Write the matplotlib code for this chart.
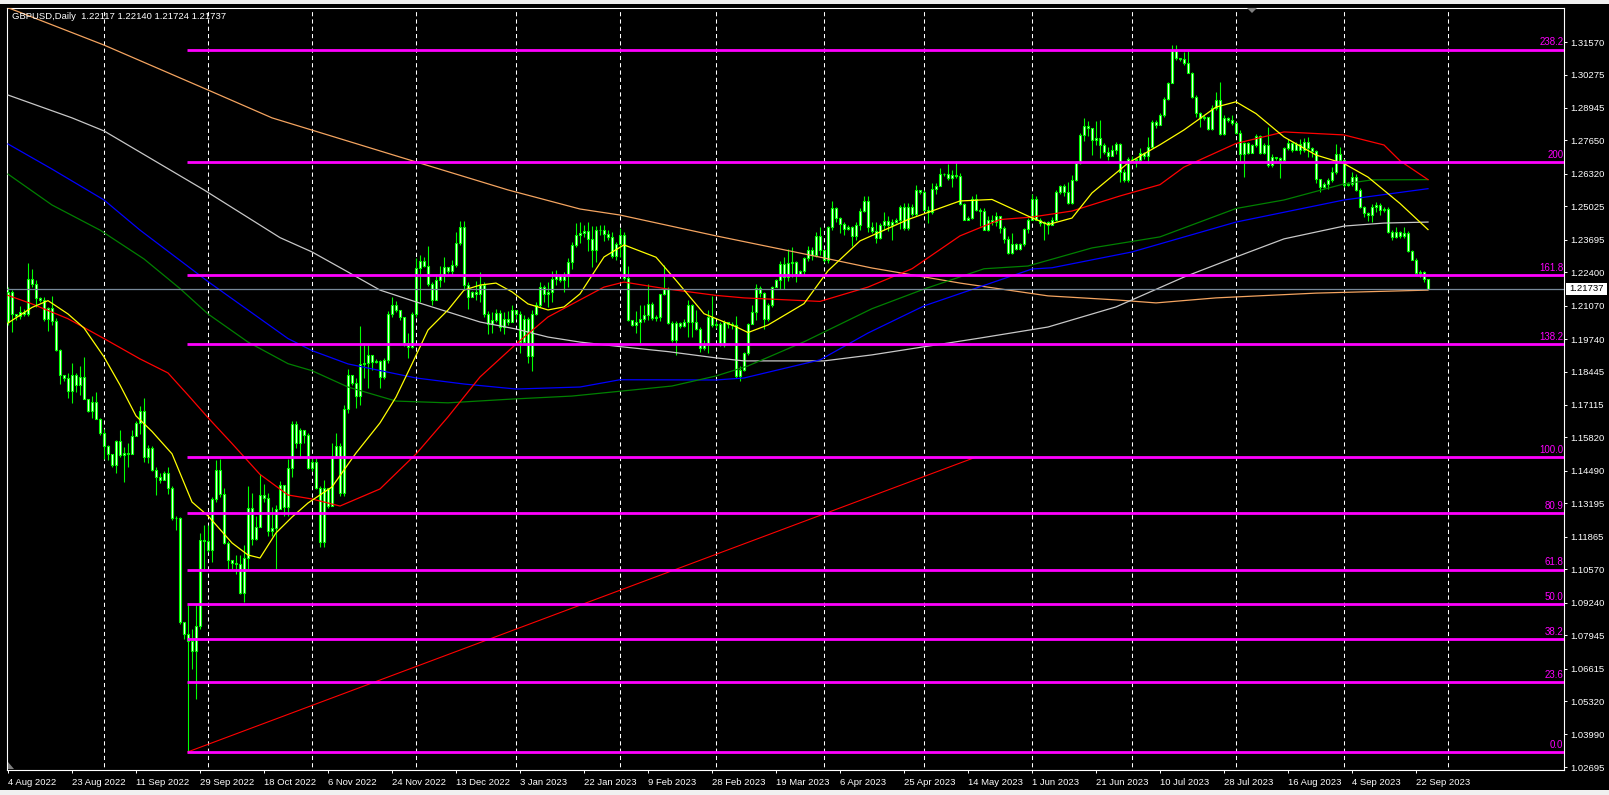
import matplotlib
matplotlib.use("Agg")
import matplotlib.pyplot as plt
from matplotlib.patches import Rectangle, Polygon
import numpy as np

plt.rcParams['font.family'] = ['Liberation Sans', 'DejaVu Sans']

# GBPUSD daily bars (broker shows Sunday bars too); open of a bar = previous close
first_open = 1.2040
closes = [
    1.2161, 1.2072, 1.2066, 1.2083, 1.2072, 1.2212, 1.2193, 1.2137, 1.2129, 1.2055,
    1.2096, 1.2045, 1.1929, 1.1830, 1.1819, 1.1767, 1.1830, 1.1792, 1.1822, 1.1737,
    1.1686, 1.1723, 1.1657, 1.1600, 1.1548, 1.1518, 1.1474, 1.1566, 1.1511, 1.1520,
    1.1518, 1.1586, 1.1638, 1.1689, 1.1504, 1.1542, 1.1453, 1.1424, 1.1412, 1.1440,
    1.1380, 1.1260, 1.1263, 1.0849, 1.0798, 1.0771, 1.0730, 1.0830, 1.1175, 1.1168,
    1.1134, 1.1337, 1.1452, 1.1356, 1.1161, 1.1096, 1.1082, 1.1079, 1.0963, 1.1100,
    1.1301, 1.1178, 1.1227, 1.1353, 1.1339, 1.1209, 1.1223, 1.1296, 1.1391, 1.1305,
    1.1460, 1.1635, 1.1562, 1.1611, 1.1591, 1.1462, 1.1485, 1.1380, 1.1166, 1.1380,
    1.1310, 1.1509, 1.1549, 1.1362, 1.1695, 1.1831, 1.1800, 1.1748, 1.1875, 1.1880,
    1.1910, 1.1882, 1.1888, 1.1822, 1.1891, 1.2075, 1.2111, 1.2091, 1.2062, 1.1958,
    1.1942, 1.2075, 1.2259, 1.2285, 1.2265, 1.2192, 1.2131, 1.2208, 1.2232, 1.2261,
    1.2245, 1.2268, 1.2355, 1.2419, 1.2188, 1.2141, 1.2161, 1.2152, 1.2188, 1.2075,
    1.2035, 1.2051, 1.2078, 1.2022, 1.2055, 1.2042, 1.2091, 1.2072, 1.1962, 1.2055,
    1.1908, 1.2075, 1.2111, 1.2181, 1.2152, 1.2161, 1.2215, 1.2228, 1.2210, 1.2224,
    1.2281, 1.2348, 1.2388, 1.2397, 1.2404, 1.2371, 1.2327, 1.2407, 1.2410, 1.2391,
    1.2380, 1.2305, 1.2352, 1.2387, 1.2217, 1.2049, 1.2030, 1.2040, 1.2055, 1.2068,
    1.2115, 1.2056, 1.2062, 1.2152, 1.2174, 1.2036, 1.1970, 1.2038, 1.2025, 1.2043,
    1.2108, 1.2042, 1.2016, 1.1937, 1.1950, 1.2062, 1.2030, 1.2034, 1.1951, 1.2042,
    1.2033, 1.2030, 1.1826, 1.1850, 1.1920, 1.2033, 1.2082, 1.2178, 1.2158, 1.2052,
    1.2108, 1.2181, 1.2209, 1.2272, 1.2220, 1.2275, 1.2279, 1.2235, 1.2245, 1.2296,
    1.2328, 1.2310, 1.2384, 1.2330, 1.2290, 1.2420, 1.2496, 1.2457, 1.2433, 1.2411,
    1.2420, 1.2384, 1.2428, 1.2486, 1.2525, 1.2420, 1.2405, 1.2377, 1.2430, 1.2444,
    1.2430, 1.2440, 1.2450, 1.2500, 1.2417, 1.2500, 1.2473, 1.2567, 1.2560, 1.2490,
    1.2480, 1.2572, 1.2585, 1.2633, 1.2630, 1.2616, 1.2629, 1.2622, 1.2510, 1.2450,
    1.2457, 1.2530, 1.2490, 1.2483, 1.2410, 1.2450, 1.2440, 1.2463, 1.2415, 1.2371,
    1.2315, 1.2351, 1.2334, 1.2351, 1.2413, 1.2450, 1.2530, 1.2450, 1.2437, 1.2440,
    1.2430, 1.2450, 1.2559, 1.2583, 1.2560, 1.2514, 1.2609, 1.2675, 1.2788, 1.2824,
    1.2815, 1.2765, 1.2775, 1.2748, 1.2718, 1.2702, 1.2728, 1.2752, 1.2640, 1.2609,
    1.2693, 1.2690, 1.2686, 1.2716, 1.2702, 1.2740, 1.2839, 1.2826, 1.2866, 1.2932,
    1.2995, 1.3125, 1.3092, 1.3088, 1.3072, 1.3035, 1.2939, 1.2873, 1.2853, 1.2857,
    1.2809, 1.2896, 1.2928, 1.2790, 1.2853, 1.2846, 1.2833, 1.2795, 1.2713, 1.2753,
    1.2716, 1.2746, 1.2782, 1.2716, 1.2746, 1.2666, 1.2700, 1.2694, 1.2686, 1.2733,
    1.2753, 1.2729, 1.2750, 1.2726, 1.2759, 1.2733, 1.2724, 1.2613, 1.2580, 1.2591,
    1.2609, 1.2640, 1.2713, 1.2686, 1.2587, 1.2593, 1.2620, 1.2569, 1.2500, 1.2476,
    1.2467, 1.2500, 1.2507, 1.2489, 1.2493, 1.2400, 1.2380, 1.2400, 1.2383, 1.2396,
    1.2325, 1.2290, 1.2237, 1.2241, 1.2212, 1.21737,
]
highs = [
    1.2180, 1.2168, 1.2072, 1.2107, 1.2093, 1.2275, 1.2253, 1.2209, 1.2141, 1.2141,
    1.2100, 1.2145, 1.2059, 1.1935, 1.1830, 1.1839, 1.1878, 1.1839, 1.1867, 1.1901,
    1.1737, 1.1748, 1.1764, 1.1661, 1.1616, 1.1552, 1.1479, 1.1570, 1.1613, 1.1545,
    1.1561, 1.1613, 1.1648, 1.1709, 1.1740, 1.1552, 1.1548, 1.1463, 1.1442, 1.1449,
    1.1463, 1.1387, 1.1271, 1.1264, 1.0846, 1.0915, 1.0819, 1.0915, 1.1202, 1.1233,
    1.1233, 1.1346, 1.1493, 1.1497, 1.1380, 1.1168, 1.1093, 1.1113, 1.1113, 1.1155,
    1.1387, 1.1360, 1.1271, 1.1438, 1.1396, 1.1360, 1.1305, 1.1312, 1.1408, 1.1360,
    1.1497, 1.1646, 1.1649, 1.1619, 1.1598, 1.1598, 1.1502, 1.1502, 1.1390, 1.1413,
    1.1340, 1.1562, 1.1600, 1.1562, 1.1710, 1.1855, 1.1815, 1.1820, 1.2028, 1.1960,
    1.1950, 1.1905, 1.1895, 1.1890, 1.1900, 1.2085, 1.2140, 1.2125, 1.2070, 1.2055,
    1.2000, 1.2080, 1.2295, 1.2310, 1.2300, 1.2345, 1.2200, 1.2225, 1.2265, 1.2300,
    1.2255, 1.2290, 1.2400, 1.2446, 1.2445, 1.2200, 1.2165, 1.2205, 1.2240, 1.2200,
    1.2085, 1.2080, 1.2095, 1.2090, 1.2080, 1.2085, 1.2110, 1.2080, 1.2085, 1.2070,
    1.2060, 1.2090, 1.2120, 1.2200, 1.2190, 1.2200, 1.2245, 1.2250, 1.2230, 1.2240,
    1.2295, 1.2360, 1.2435, 1.2440, 1.2430, 1.2441, 1.2423, 1.2424, 1.2428, 1.2430,
    1.2410, 1.2400, 1.2360, 1.2415, 1.2400, 1.2266, 1.2050, 1.2085, 1.2108, 1.2108,
    1.2194, 1.2121, 1.2070, 1.2155, 1.2270, 1.2180, 1.2045, 1.2045, 1.2042, 1.2052,
    1.2128, 1.2115, 1.2089, 1.2023, 1.1970, 1.2089, 1.2144, 1.2045, 1.2042, 1.2050,
    1.2039, 1.2042, 1.2065, 1.1865, 1.1924, 1.2039, 1.2108, 1.2194, 1.2185, 1.2161,
    1.2117, 1.2187, 1.2213, 1.2286, 1.2301, 1.2332, 1.2340, 1.2285, 1.2250, 1.2300,
    1.2345, 1.2340, 1.2400, 1.2420, 1.2330, 1.2425, 1.2525, 1.2500, 1.2460, 1.2440,
    1.2428, 1.2425, 1.2440, 1.2495, 1.2542, 1.2545, 1.2440, 1.2440, 1.2437, 1.2479,
    1.2463, 1.2453, 1.2457, 1.2506, 1.2514, 1.2514, 1.2510, 1.2589, 1.2569, 1.2569,
    1.2503, 1.2596, 1.2596, 1.2655, 1.2636, 1.2671, 1.2649, 1.2682, 1.2634, 1.2516,
    1.2463, 1.2543, 1.2550, 1.2497, 1.2497, 1.2463, 1.2470, 1.2479, 1.2440, 1.2424,
    1.2384, 1.2397, 1.2358, 1.2358, 1.2417, 1.2457, 1.2550, 1.2543, 1.2457, 1.2444,
    1.2444, 1.2461, 1.2567, 1.2589, 1.2590, 1.2600, 1.2629, 1.2682, 1.2795, 1.2854,
    1.2841, 1.2795, 1.2841, 1.2848, 1.2753, 1.2739, 1.2748, 1.2758, 1.2755, 1.2650,
    1.2700, 1.2705, 1.2695, 1.2735, 1.2720, 1.2779, 1.2846, 1.2846, 1.2873, 1.2939,
    1.2999, 1.3145, 1.3145, 1.3095, 1.3119, 1.3125, 1.3039, 1.2945, 1.2880, 1.2866,
    1.2860, 1.2906, 1.2959, 1.2999, 1.2866, 1.2860, 1.2866, 1.2839, 1.2806, 1.2759,
    1.2760, 1.2752, 1.2790, 1.2786, 1.2753, 1.2819, 1.2710, 1.2700, 1.2700, 1.2740,
    1.2770, 1.2760, 1.2760, 1.2770, 1.2775, 1.2779, 1.2740, 1.2726, 1.2605, 1.2600,
    1.2615, 1.2660, 1.2750, 1.2740, 1.2690, 1.2600, 1.2640, 1.2630, 1.2575, 1.2505,
    1.2480, 1.2510, 1.2520, 1.2515, 1.2500, 1.2500, 1.2410, 1.2420, 1.2405, 1.2420,
    1.2405, 1.2330, 1.2295, 1.2250, 1.2245, 1.22140,
]
lows = [
    1.2031, 1.2004, 1.2049, 1.2052, 1.2066, 1.2066, 1.2182, 1.2100, 1.2123, 1.2045,
    1.2008, 1.2031, 1.1926, 1.1794, 1.1808, 1.1740, 1.1719, 1.1764, 1.1753, 1.1734,
    1.1682, 1.1661, 1.1655, 1.1593, 1.1497, 1.1493, 1.1465, 1.1442, 1.1504, 1.1405,
    1.1465, 1.1515, 1.1611, 1.1597, 1.1483, 1.1479, 1.1449, 1.1353, 1.1401, 1.1433,
    1.1356, 1.1255, 1.1214, 1.0840, 1.0778, 1.0333, 1.0661, 1.0542, 1.0819, 1.1059,
    1.1127, 1.1086, 1.1326, 1.1346, 1.1159, 1.1059, 1.1059, 1.1038, 1.0959, 1.0926,
    1.1059, 1.1155, 1.1175, 1.1230, 1.1326, 1.1189, 1.1189, 1.1059, 1.1333, 1.1271,
    1.1271, 1.1425, 1.1542, 1.1502, 1.1562, 1.1455, 1.1448, 1.1376, 1.1146, 1.1146,
    1.1300, 1.1330, 1.1500, 1.1350, 1.1350, 1.1680, 1.1790, 1.1700, 1.1710, 1.1820,
    1.1780, 1.1850, 1.1880, 1.1780, 1.1815, 1.1880, 1.2060, 1.2080, 1.2050, 1.1945,
    1.1900, 1.1940, 1.2060, 1.2120, 1.2260, 1.2185, 1.2110, 1.2130, 1.2180, 1.2200,
    1.2238, 1.2230, 1.2260, 1.2350, 1.2170, 1.2095, 1.2140, 1.2130, 1.2120, 1.2062,
    1.1995, 1.2000, 1.2040, 1.2005, 1.1995, 1.2030, 1.2040, 1.2055, 1.1920, 1.1950,
    1.1880, 1.1845, 1.2070, 1.2100, 1.2120, 1.2100, 1.2120, 1.2190, 1.2200, 1.2160,
    1.2180, 1.2255, 1.2340, 1.2355, 1.2380, 1.2325, 1.2260, 1.2279, 1.2390, 1.2365,
    1.2370, 1.2295, 1.2290, 1.2300, 1.2210, 1.2046, 1.2025, 1.2000, 1.1960, 1.2043,
    1.2050, 1.2050, 1.2045, 1.2045, 1.2150, 1.2033, 1.1964, 1.1911, 1.2017, 1.2023,
    1.1983, 1.1983, 1.2010, 1.1924, 1.1930, 1.1920, 1.2023, 1.2020, 1.1946, 1.1944,
    1.2020, 1.2016, 1.1819, 1.1806, 1.1846, 1.1911, 1.2052, 1.2049, 1.2141, 1.2016,
    1.2046, 1.2102, 1.2180, 1.2174, 1.2174, 1.2207, 1.2220, 1.2200, 1.2230, 1.2230,
    1.2285, 1.2290, 1.2300, 1.2310, 1.2280, 1.2275, 1.2410, 1.2440, 1.2395, 1.2390,
    1.2408, 1.2345, 1.2370, 1.2410, 1.2480, 1.2400, 1.2398, 1.2358, 1.2373, 1.2410,
    1.2404, 1.2368, 1.2437, 1.2413, 1.2410, 1.2410, 1.2464, 1.2464, 1.2550, 1.2483,
    1.2437, 1.2474, 1.2553, 1.2583, 1.2623, 1.2609, 1.2580, 1.2616, 1.2506, 1.2448,
    1.2448, 1.2453, 1.2483, 1.2424, 1.2408, 1.2404, 1.2430, 1.2424, 1.2397, 1.2358,
    1.2311, 1.2311, 1.2328, 1.2328, 1.2344, 1.2397, 1.2448, 1.2448, 1.2424, 1.2368,
    1.2391, 1.2427, 1.2444, 1.2550, 1.2545, 1.2510, 1.2510, 1.2603, 1.2673, 1.2762,
    1.2781, 1.2708, 1.2748, 1.2695, 1.2712, 1.2689, 1.2712, 1.2712, 1.2600, 1.2598,
    1.2600, 1.2680, 1.2660, 1.2676, 1.2690, 1.2676, 1.2733, 1.2815, 1.2830, 1.2857,
    1.2928, 1.2992, 1.3085, 1.3080, 1.3065, 1.3032, 1.2935, 1.2860, 1.2819, 1.2846,
    1.2806, 1.2806, 1.2886, 1.2786, 1.2786, 1.2839, 1.2826, 1.2790, 1.2680, 1.2620,
    1.2713, 1.2716, 1.2740, 1.2713, 1.2710, 1.2660, 1.2660, 1.2686, 1.2617, 1.2680,
    1.2726, 1.2720, 1.2726, 1.2710, 1.2720, 1.2700, 1.2700, 1.2595, 1.2560, 1.2575,
    1.2570, 1.2600, 1.2630, 1.2680, 1.2580, 1.2585, 1.2585, 1.2565, 1.2495, 1.2460,
    1.2445, 1.2440, 1.2480, 1.2470, 1.2480, 1.2396, 1.2370, 1.2378, 1.2378, 1.2375,
    1.2320, 1.2287, 1.2234, 1.2220, 1.2200, 1.21724,
]
assert len(closes) == len(highs) == len(lows)

title = "GBPUSD,Daily  1.22117 1.22140 1.21724 1.21737"
last_price = 1.21737

# time scale: one label every 16 bars
date_labels = ["4 Aug 2022", "23 Aug 2022", "11 Sep 2022", "29 Sep 2022", "18 Oct 2022",
               "6 Nov 2022", "24 Nov 2022", "13 Dec 2022", "3 Jan 2023", "22 Jan 2023",
               "9 Feb 2023", "28 Feb 2023", "19 Mar 2023", "6 Apr 2023", "25 Apr 2023",
               "14 May 2023", "1 Jun 2023", "21 Jun 2023", "10 Jul 2023", "28 Jul 2023",
               "16 Aug 2023", "4 Sep 2023", "22 Sep 2023"]
label_bars = [16 * k for k in range(len(date_labels))]
# vertical dashed grid at the first bar of each month
month_start_bars = [24, 50, 76, 102, 127, 153, 177, 204, 229, 256, 281, 307, 334, 360]

price_ticks = [1.31570, 1.30275, 1.28945, 1.27650, 1.26320, 1.25025, 1.23695, 1.22400,
               1.21070, 1.19740, 1.18445, 1.17115, 1.15820, 1.14490, 1.13195, 1.11865,
               1.10570, 1.09240, 1.07945, 1.06615, 1.05320, 1.03990, 1.02695]

# Fibonacci retracement anchors and levels
fib_bars = [45, 242]
fib_prices = [1.0330, 1.1504]
fib_levels = [0.0, 23.6, 38.2, 50.0, 61.8, 80.9, 100.0, 138.2, 161.8, 200.0, 238.2]
fib_texts = ["0.0", "23.6", "38.2", "50.0", "61.8", "80.9", "100.0", "138.2", "161.8", "200", "238.2"]

# moving averages
ma_yellow_bars = [0, 6, 10, 15, 19, 24, 28, 32, 36, 41, 46, 50, 56, 60, 63, 67, 71, 75, 81, 87,
                  93, 97, 101, 105, 110, 114, 118, 122, 126, 130, 135, 139, 143, 149, 154, 162,
                  167, 174, 182, 185, 190, 199, 205, 213, 225, 238, 246, 255, 260, 266, 271,
                  280, 288, 294, 302, 307, 312, 319, 327, 334, 340, 348, 355]
ma_yellow = [1.2038, 1.2100, 1.2127, 1.2074, 1.2018, 1.1903, 1.1791, 1.1668, 1.1606, 1.1517,
             1.1325, 1.1270, 1.1162, 1.1114, 1.1102, 1.1202, 1.1265, 1.1321, 1.1385, 1.1520,
             1.1640, 1.1743, 1.1875, 1.2010, 1.2090, 1.2169, 1.2189, 1.2197, 1.2162, 1.2114,
             1.2090, 1.2102, 1.2154, 1.2301, 1.2349, 1.2300, 1.2208, 1.2075, 1.2023, 1.2000,
             1.2030, 1.2115, 1.2246, 1.2365, 1.2450, 1.2524, 1.2530, 1.2464, 1.2430, 1.2456,
             1.2556, 1.2675, 1.2748, 1.2807, 1.2898, 1.2919, 1.2872, 1.2779, 1.2707, 1.2673,
             1.2619, 1.2514, 1.2410]
ma_red_bars = [0, 6, 15, 24, 33, 40, 45, 50, 56, 63, 70, 76, 83, 93, 102, 110, 118, 127, 135,
               143, 149, 154, 165, 177, 184, 203, 215, 226, 238, 248, 256, 266, 278, 288, 294,
               307, 319, 334, 344, 348, 355]
ma_red = [1.2148, 1.2114, 1.2055, 1.1976, 1.1895, 1.1839, 1.1751, 1.1661, 1.1558, 1.1435,
          1.1353, 1.1337, 1.1309, 1.1377, 1.1516, 1.1664, 1.1823, 1.1954, 1.2062, 1.2130,
          1.2181, 1.2201, 1.2173, 1.2148, 1.2138, 1.2124, 1.2181, 1.2254, 1.2385, 1.2450,
          1.2460, 1.2484, 1.2544, 1.2589, 1.2659, 1.2753, 1.2799, 1.2787, 1.2747, 1.2684,
          1.2609]
ma_green_bars = [0, 11, 23, 34, 43, 50, 60, 70, 76, 85, 97, 110, 126, 141, 166, 177, 185, 199,
                 216, 229, 244, 255, 271, 288, 307, 319, 334, 341, 355]
ma_green = [1.2631, 1.2508, 1.2408, 1.2293, 1.2175, 1.2074, 1.1962, 1.1876, 1.1848, 1.1783,
            1.1727, 1.1720, 1.1735, 1.1747, 1.1787, 1.1827, 1.1867, 1.1963, 1.2095, 1.2173,
            1.2254, 1.2265, 1.2337, 1.2381, 1.2494, 1.2528, 1.2592, 1.2608, 1.2609]
ma_blue_bars = [0, 11, 24, 33, 50, 70, 76, 85, 102, 114, 127, 143, 153, 177, 184, 203, 215,
                229, 256, 261, 281, 307, 334, 355]
ma_blue = [1.2751, 1.2651, 1.2528, 1.2408, 1.2203, 1.1976, 1.1928, 1.1875, 1.1819, 1.1795,
           1.1775, 1.1783, 1.1812, 1.1811, 1.1819, 1.1891, 1.1998, 1.2106, 1.2253, 1.2258,
           1.2321, 1.2440, 1.2528, 1.2573]
ma_silver_bars = [0, 16, 24, 49, 68, 76, 85, 93, 102, 110, 118, 127, 135, 143, 153, 165, 177,
                  184, 204, 216, 243, 260, 277, 294, 307, 319, 334, 344, 355]
ma_silver = [1.2946, 1.2855, 1.2803, 1.2568, 1.2378, 1.2321, 1.2241, 1.2169, 1.2122, 1.2082,
             1.2042, 1.2014, 1.1982, 1.1962, 1.1944, 1.1924, 1.1899, 1.1887, 1.1887, 1.1911,
             1.1978, 1.2022, 1.2102, 1.2221, 1.2301, 1.2373, 1.2424, 1.2436, 1.2440]
ma_orange_bars = [-1, 24, 50, 66, 98, 125, 143, 153, 177, 204, 216, 238, 260, 277, 287, 302,
                  327, 355]
ma_orange = [1.3300, 1.3145, 1.2966, 1.2855, 1.2699, 1.2568, 1.2492, 1.2468, 1.2385, 1.2297,
             1.2257, 1.2197, 1.2146, 1.2130, 1.2118, 1.2138, 1.2157, 1.2169]

# ---- figure ----
W, H = 1609, 795
fig = plt.figure(figsize=(W / 100, H / 100), dpi=100, facecolor='black')
L, R, T, B = 7, 1564, 8, 770
ax = fig.add_axes([L / W, 1 - B / H, (R - L) / W, (B - T) / H])
ax.set_facecolor('black')
ax.set_xlim(-0.25, 389)
ax.set_ylim(1.02576, 1.32926)

for s in ax.spines.values():
    s.set_color('white')
    s.set_linewidth(0.8)

# grid
ax.vlines(month_start_bars, 1.0, 1.4, colors='white', linestyles=(0, (4, 3)), lw=0.75, zorder=1)

# candles
x = np.arange(len(closes))
c = np.array(closes)
o = np.concatenate([[first_open], c[:-1]])
hi = np.maximum(np.array(highs), np.maximum(o, c))
lo = np.minimum(np.array(lows), np.minimum(o, c))
ax.vlines(x, lo, hi, color='#00ff00', lw=0.8, zorder=3)
ax.bar(x, np.abs(c - o), bottom=np.minimum(o, c), width=0.5, facecolor='white',
       edgecolor='#00ff00', linewidth=0.8, zorder=4)

# moving averages
for bars, vals, col in [(ma_orange_bars, ma_orange, '#f4a460'),
                        (ma_silver_bars, ma_silver, '#c8c8c8'),
                        (ma_blue_bars, ma_blue, '#0000ff'),
                        (ma_green_bars, ma_green, '#008000'),
                        (ma_red_bars, ma_red, '#ff0000'),
                        (ma_yellow_bars, ma_yellow, '#ffff00')]:
    ax.plot(bars, vals, color=col, lw=0.9, zorder=5)

# current price line
ax.axhline(last_price, color='#778899', lw=0.9, zorder=5)

# fibonacci
ax.plot(fib_bars, fib_prices, color='#ff0000', lw=0.8, zorder=6)
span = fib_prices[1] - fib_prices[0]
for lvl, txt in zip(fib_levels, fib_texts):
    p = fib_prices[0] + span * lvl / 100.0
    ax.hlines(p, fib_bars[0] - 0.3, 389, color='#ff00ff', lw=2.0, zorder=7)
    ax.text(388.8, p + 0.0009, txt, color='#ff00ff', fontsize=7, ha='right', va='bottom', zorder=8)

# axes ticks
ax.yaxis.tick_right()
ax.set_yticks(price_ticks)
ax.set_yticklabels([f"{v:.5f}" for v in price_ticks])
ax.tick_params(axis='y', colors='white', length=2.5, width=0.7, pad=2, labelsize=6.8)
ax.set_xticks(label_bars)
ax.set_xticklabels(date_labels, ha='left')
ax.tick_params(axis='x', colors='white', length=2.5, width=0.7, pad=3, labelsize=6.8)
for lab in ax.get_xticklabels() + ax.get_yticklabels():
    lab.set_color('white')

# header text
fig.text(12 / W, 1 - 16.5 / H, title, color='white', fontsize=6.8, ha='left', va='center')

# current price box
fig.patches.append(Rectangle((1566 / W, 1 - 294.5 / H), 41 / W, 11.5 / H, transform=fig.transFigure,
                             facecolor='white', edgecolor='none'))
fig.text(1586.5 / W, 1 - 289 / H, f"{last_price:.5f}", color='black', fontsize=6.8, ha='center', va='center')

# window chrome
fig.patches.append(Rectangle((0, 1 - 4 / H), 1, 4 / H, transform=fig.transFigure,
                             facecolor='#f0f0f0', edgecolor='none'))
fig.patches.append(Rectangle((0, 0), 1, 5 / H, transform=fig.transFigure,
                             facecolor='#f0f0f0', edgecolor='none'))
fig.patches.append(Polygon([(1247 / W, 1 - 8 / H), (1257 / W, 1 - 8 / H), (1252 / W, 1 - 13 / H)],
                           closed=True, transform=fig.transFigure, facecolor='#808080', edgecolor='none'))
fig.patches.append(Polygon([(8 / W, 1 - 762 / H), (8 / W, 1 - 769 / H), (14 / W, 1 - 769 / H)],
                           closed=True, transform=fig.transFigure, facecolor='#808080', edgecolor='none'))

fig.savefig('out.png', dpi=100, facecolor='black')
